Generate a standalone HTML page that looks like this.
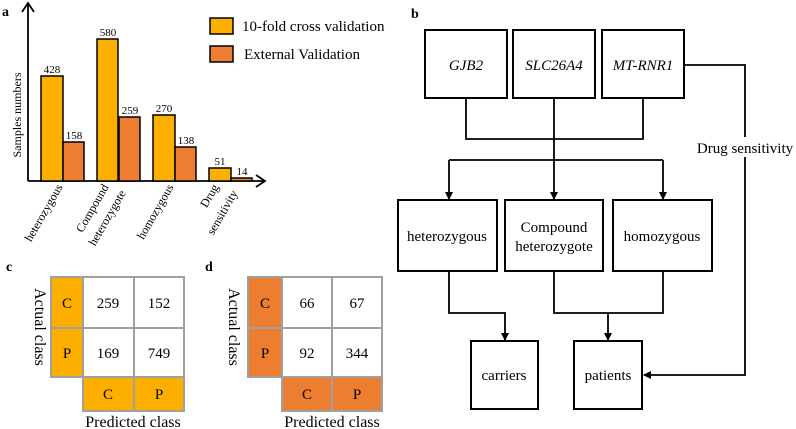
<!DOCTYPE html>
<html><head><style>body{margin:0;background:#fff}svg{display:block}text{font-family:"Liberation Serif",serif}</style></head>
<body>
<svg width="796" height="429" viewBox="0 0 796 429" xmlns="http://www.w3.org/2000/svg">
<defs><marker id="ar" markerWidth="8" markerHeight="8" refX="7" refY="4" orient="auto" markerUnits="userSpaceOnUse"><path d="M0,0 L8,4 L0,8 Z" fill="#000"/></marker></defs>
<text x="2" y="16" font-size="14" font-weight="bold">a</text>
<g stroke="#000" stroke-width="1.8" fill="none">
<line x1="28" y1="181" x2="28" y2="3"/><polyline points="22,12 28,3 34,12"/>
<line x1="28" y1="181" x2="264" y2="181"/><polyline points="256,175 265,181 256,187"/>
</g>
<g stroke="#000" stroke-width="1.5">
<rect x="41" y="76" width="22" height="105" fill="#FDAF00"/><rect x="63" y="142" width="21" height="39" fill="#ED7D31"/>
<rect x="97" y="39" width="21" height="142" fill="#FDAF00"/><rect x="119" y="117" width="21" height="64" fill="#ED7D31"/>
<rect x="153" y="115" width="22" height="66" fill="#FDAF00"/><rect x="175" y="147" width="21" height="34" fill="#ED7D31"/>
<rect x="209" y="168" width="22" height="13" fill="#FDAF00"/><rect x="231" y="178" width="21" height="3" fill="#ED7D31"/>
<rect x="210" y="18" width="23" height="16" fill="#FDAF00"/><rect x="210" y="46" width="23" height="16" fill="#ED7D31"/>
</g>
<g font-size="11" text-anchor="middle">
<text x="52" y="73">428</text><text x="74" y="139">158</text><text x="108" y="36">580</text><text x="130" y="114">259</text>
<text x="164" y="112">270</text><text x="186" y="144">138</text><text x="220" y="165">51</text><text x="242" y="175">14</text>
</g>
<text x="242" y="31" font-size="15">10-fold cross validation</text>
<text x="244" y="59" font-size="15">External Validation</text>
<text transform="translate(21,115) rotate(-90)" font-size="12" text-anchor="middle">Samples numbers</text>
<g font-size="12" text-anchor="end">
<text transform="translate(63,187) rotate(-60)">heterozygous</text>
<text transform="translate(109,187) rotate(-60)">Compound</text>
<text transform="translate(126,193) rotate(-60)">heterozygote</text>
<text transform="translate(174,187) rotate(-60)">homozygous</text>
<text transform="translate(219,187) rotate(-60)">Drug</text>
<text transform="translate(238,193) rotate(-60)">sensitivity</text>
</g>
<!-- c -->
<text x="6" y="271" font-size="14" font-weight="bold">c</text>
<g stroke="#a0a0a0" stroke-width="2">
<rect x="51" y="277" width="32" height="51" fill="#FDAF00"/><rect x="51" y="328" width="32" height="49" fill="#FDAF00"/>
<rect x="83" y="277" width="51" height="51" fill="#fff"/><rect x="134" y="277" width="50" height="51" fill="#fff"/>
<rect x="83" y="328" width="51" height="49" fill="#fff"/><rect x="134" y="328" width="50" height="49" fill="#fff"/>
<rect x="83" y="377" width="51" height="34" fill="#FDAF00"/><rect x="134" y="377" width="50" height="34" fill="#FDAF00"/>
</g>
<g font-size="15" text-anchor="middle">
<text x="67" y="308">C</text><text x="67" y="358">P</text>
<text x="108" y="308">259</text><text x="159" y="308">152</text><text x="108" y="358">169</text><text x="159" y="358">749</text>
<text x="108" y="399">C</text><text x="159" y="399">P</text>
<text transform="translate(35,327) rotate(90)" font-size="16">Actual class</text>
<text x="133" y="427" font-size="16">Predicted class</text>
</g>
<!-- d -->
<text x="205" y="271" font-size="14" font-weight="bold">d</text>
<g stroke="#a0a0a0" stroke-width="2">
<rect x="248" y="277" width="34" height="51" fill="#ED7D31"/><rect x="248" y="328" width="34" height="49" fill="#ED7D31"/>
<rect x="282" y="277" width="50" height="51" fill="#fff"/><rect x="332" y="277" width="50" height="51" fill="#fff"/>
<rect x="282" y="328" width="50" height="49" fill="#fff"/><rect x="332" y="328" width="50" height="49" fill="#fff"/>
<rect x="282" y="377" width="50" height="34" fill="#ED7D31"/><rect x="332" y="377" width="50" height="34" fill="#ED7D31"/>
</g>
<g font-size="15" text-anchor="middle">
<text x="265" y="308">C</text><text x="265" y="358">P</text>
<text x="307" y="308">66</text><text x="357" y="308">67</text><text x="307" y="358">92</text><text x="357" y="358">344</text>
<text x="307" y="399">C</text><text x="357" y="399">P</text>
<text transform="translate(229,327) rotate(90)" font-size="16">Actual class</text>
<text x="332" y="427" font-size="16">Predicted class</text>
</g>
<!-- b -->
<text x="411" y="18" font-size="14" font-weight="bold">b</text>
<g stroke="#000" stroke-width="2" fill="#fff">
<rect x="425" y="30" width="82" height="68"/><rect x="513" y="30" width="82" height="68"/><rect x="602" y="30" width="82" height="68"/>
<rect x="398" y="200" width="99" height="71"/><rect x="505" y="200" width="98" height="71"/><rect x="613" y="200" width="99" height="71"/>
<rect x="471" y="341" width="67" height="68"/><rect x="574" y="341" width="68" height="68"/>
</g>
<g stroke="#000" stroke-width="1.8" fill="none">
<polyline points="466,98 466,139 643,139 643,98"/>
<line x1="554" y1="98" x2="554" y2="199" marker-end="url(#ar)"/>
<polyline points="449,160 449,199" marker-end="url(#ar)"/>
<polyline points="663,160 663,199" marker-end="url(#ar)"/>
<line x1="449" y1="160" x2="663" y2="160"/>
<polyline points="684,65 745,65 745,375 644,375" marker-end="url(#ar)"/>
<polyline points="449,271 449,313 505,313 505,340" marker-end="url(#ar)"/>
<polyline points="554,271 554,313 663,313 663,271"/>
<line x1="608" y1="313" x2="608" y2="340" marker-end="url(#ar)"/>
</g>
<rect x="692" y="137" width="106" height="20" fill="#fff"/>
<text x="745" y="153" font-size="15" text-anchor="middle">Drug sensitivity</text>
<g font-size="15" text-anchor="middle">
<text x="466" y="70" font-style="italic">GJB2</text><text x="554" y="70" font-style="italic">SLC26A4</text><text x="643" y="70" font-style="italic">MT-RNR1</text>
<text x="447" y="241">heterozygous</text>
<text x="554" y="232">Compound</text><text x="554" y="251">heterozygote</text>
<text x="662" y="241">homozygous</text>
<text x="504" y="380">carriers</text><text x="608" y="380">patients</text>
</g>
</svg>
</body></html>
